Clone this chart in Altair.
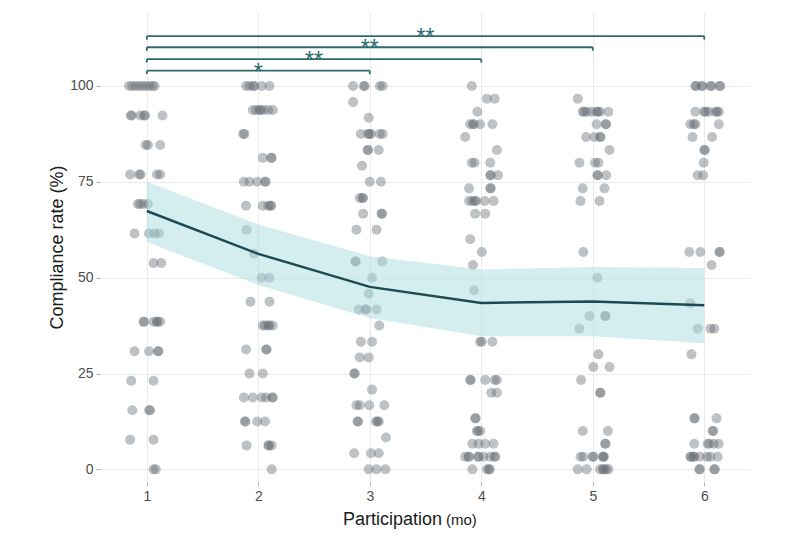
import altair as alt
import pandas as pd

# ---- data ----
months = [1, 2, 3, 4, 5, 6]
fit_mean = [67.4, 56.2, 47.6, 43.4, 43.8, 42.8]
fit_lo = [59.3, 48.1, 39.5, 34.7, 34.7, 32.9]
fit_hi = [75.0, 63.9, 55.6, 52.1, 52.8, 52.5]

bracket_from = [1, 1, 1, 1]
bracket_to = [3, 4, 5, 6]
bracket_y = [104.0, 107.0, 110.1, 113.0]
bracket_label = ["*", "**", "**", "**"]

# jittered observations: (compliance value, [jittered x positions])
m1 = [
    (100.0, [0.84, 0.87, 0.90, 0.93, 0.96, 0.99, 1.02, 1.05, 1.07]),
    (92.3, [0.855, 0.865, 0.94, 0.975, 0.985, 1.14]),
    (84.6, [0.99, 1.01, 1.12]),
    (76.9, [0.85, 0.93, 0.945, 1.09, 1.12]),
    (69.2, [0.92, 0.94, 0.97, 1.01]),
    (61.5, [0.89, 1.02, 1.07, 1.11]),
    (53.8, [1.06, 1.13]),
    (38.5, [0.97, 0.975, 1.06, 1.09, 1.095, 1.12]),
    (30.8, [0.89, 1.02, 1.10, 1.105]),
    (23.1, [0.86, 1.06]),
    (15.4, [0.87, 1.02, 1.03]),
    (7.7, [0.85, 1.06]),
    (0.0, [1.06, 1.08]),
]
m2 = [
    (100.0, [1.89, 1.92, 1.955, 1.965, 2.03, 2.10]),
    (93.75, [1.95, 1.98, 2.01, 2.02, 2.05, 2.09, 2.13]),
    (87.5, [1.865, 1.875]),
    (81.25, [2.04, 2.115, 2.12]),
    (75.0, [1.87, 1.92, 1.99, 2.06, 2.065]),
    (68.75, [1.89, 2.04, 2.09, 2.11, 2.115]),
    (62.5, [1.895]),
    (56.25, [1.96]),
    (50.0, [2.03, 2.10]),
    (43.75, [1.93, 2.10]),
    (37.5, [2.04, 2.06, 2.09, 2.10, 2.13]),
    (31.25, [1.89, 2.07, 2.075]),
    (25.0, [1.92, 2.04]),
    (18.75, [1.87, 1.95, 2.03, 2.07, 2.125, 2.13]),
    (12.5, [1.88, 1.885, 1.99, 2.06]),
    (6.25, [1.895, 2.09, 2.095, 2.12]),
    (0.0, [2.12]),
]
m3 = [
    (100.0, [2.85, 2.945, 2.955, 3.09, 3.115]),
    (95.8, [2.85]),
    (91.7, [2.99]),
    (87.5, [2.92, 2.985, 2.995, 3.01, 3.09, 3.115]),
    (83.3, [2.98, 2.985, 3.08]),
    (79.2, [2.93]),
    (75.0, [3.0, 3.1]),
    (70.8, [2.91, 2.935, 2.94]),
    (66.7, [2.94, 3.105, 3.11]),
    (62.5, [2.88, 3.06]),
    (54.2, [2.87, 2.875, 3.11]),
    (50.0, [3.02]),
    (45.8, [2.99]),
    (41.7, [2.90, 2.96, 2.97, 3.06]),
    (37.5, [3.085]),
    (33.3, [2.92, 3.02]),
    (29.2, [2.91, 2.99]),
    (25.0, [2.86, 2.865]),
    (20.8, [3.02]),
    (16.7, [2.88, 2.91, 2.995, 3.13]),
    (12.5, [2.89, 2.895, 3.055, 3.07, 3.08]),
    (8.3, [3.145]),
    (4.2, [2.86, 3.01, 3.08]),
    (0.0, [2.99, 3.06, 3.14]),
]
m4 = [
    (100.0, [3.915]),
    (96.7, [4.05, 4.12]),
    (93.3, [3.965]),
    (90.0, [3.90, 3.925, 3.935, 3.99, 4.10]),
    (86.7, [3.855]),
    (83.3, [4.14]),
    (80.0, [3.915, 3.94, 4.08]),
    (76.7, [4.08, 4.085, 4.15]),
    (73.3, [3.89, 4.08, 4.085]),
    (70.0, [3.89, 3.92, 3.945, 3.95, 4.03, 4.11]),
    (66.7, [3.945, 4.035]),
    (60.0, [3.90]),
    (56.7, [4.005]),
    (53.3, [3.925]),
    (46.7, [3.935]),
    (33.3, [3.99, 4.005, 4.10]),
    (23.3, [3.90, 3.905, 4.035, 4.12, 4.14]),
    (20.0, [4.09, 4.14]),
    (13.3, [3.945, 3.95]),
    (10.0, [3.96, 3.97, 3.99]),
    (6.7, [3.92, 3.975, 4.035, 4.11]),
    (3.3, [3.855, 3.885, 3.89, 3.97, 3.975, 4.02, 4.08, 4.12, 4.125]),
    (0.0, [3.92, 4.05, 4.07, 4.075]),
]
m5 = [
    (96.7, [4.865]),
    (93.3, [4.91, 4.92, 4.945, 4.99, 5.035, 5.045, 5.065, 5.14]),
    (90.0, [5.035, 5.115, 5.12]),
    (86.7, [4.94, 5.015, 5.065, 5.07]),
    (83.3, [5.15]),
    (80.0, [4.88, 5.02, 5.05]),
    (76.7, [5.04, 5.045, 5.12]),
    (73.3, [4.91, 5.105]),
    (70.0, [4.89, 5.06]),
    (56.7, [4.915]),
    (50.0, [5.04]),
    (40.0, [4.97, 5.11, 5.115]),
    (36.7, [4.88]),
    (30.0, [5.05]),
    (26.7, [5.005, 5.15]),
    (23.3, [4.895]),
    (20.0, [5.065, 5.07]),
    (10.0, [4.91, 5.135]),
    (6.7, [5.11, 5.115]),
    (3.3, [4.89, 4.915, 5.0, 5.005, 5.09, 5.095, 5.1]),
    (0.0, [4.865, 4.945, 5.065, 5.09, 5.1, 5.12, 5.14]),
]
m6 = [
    (100.0, [5.92, 5.925, 5.975, 5.985, 6.055, 6.065, 6.135, 6.145]),
    (93.3, [5.92, 6.0, 6.01, 6.04, 6.10, 6.115, 6.13]),
    (90.0, [5.875, 5.905, 5.92, 6.13]),
    (86.7, [5.895, 6.07]),
    (83.3, [6.0, 6.005]),
    (80.0, [5.995]),
    (76.7, [5.94, 5.99]),
    (56.7, [5.865, 5.965, 6.135, 6.14]),
    (53.3, [6.065]),
    (43.3, [5.875]),
    (36.7, [5.94, 6.055, 6.09]),
    (30.0, [5.885]),
    (13.3, [5.91, 5.915, 6.11]),
    (10.0, [6.075, 6.08]),
    (6.7, [5.91, 6.03, 6.045, 6.085, 6.13]),
    (3.3, [5.875, 5.88, 5.905, 5.91, 5.96, 6.025, 6.055, 6.12]),
    (0.0, [5.955, 5.96, 6.09, 6.095]),
]

# ---- tables ----
rows = []
for grp in [m1, m2, m3, m4, m5, m6]:
    for val, xs in grp:
        for xv in xs:
            rows.append({"x": xv, "y": val})
pts = pd.DataFrame(rows)
fit = pd.DataFrame({"x": months, "y": fit_mean, "lo": fit_lo, "hi": fit_hi})
br = pd.DataFrame({"x1": bracket_from, "x2": bracket_to, "y": bracket_y,
                   "tip": [v - 0.9 for v in bracket_y], "label": bracket_label,
                   "mid": [(a + b) / 2 for a, b in zip(bracket_from, bracket_to)]})
ttl = pd.DataFrame({"main": ["Participation"], "unit": ["(mo)"]})

FONT = "Liberation Sans"
TEAL = "#2c6b6d"

xs = alt.Scale(domain=[0.58, 6.41], nice=False, zero=False)
ys = alt.Scale(domain=[-3.3, 119.3], nice=False, zero=False)

xax = alt.Axis(values=months, format="d", title=None, grid=True, gridColor="#ebebeb",
               domain=False, ticks=True, tickColor="#b3b3b3", tickSize=4,
               labelFontSize=14, labelColor="#4d4d4d", labelFont=FONT, labelPadding=3)
yax = alt.Axis(values=[0, 25, 50, 75, 100], format="d", title="Compliance rate (%)", grid=True,
               gridColor="#ebebeb", domain=False, ticks=True, tickColor="#b3b3b3",
               tickSize=4, labelFontSize=14, labelColor="#4d4d4d", labelFont=FONT,
               labelPadding=3, titleFontSize=18, titleFont=FONT, titleColor="#1a1a1a",
               titleFontWeight="normal", titleX=-43, titleBaseline="middle")

points = alt.Chart(pts).mark_circle(size=100, color="#5f666d", opacity=0.4).encode(
    x=alt.X("x:Q", scale=xs, axis=xax),
    y=alt.Y("y:Q", scale=ys, axis=yax),
)
band = alt.Chart(fit).mark_area(color="#aadbe0", opacity=0.5).encode(
    x=alt.X("x:Q", scale=xs), y=alt.Y("lo:Q", scale=ys), y2="hi:Q")
line = alt.Chart(fit).mark_line(color="#1d4a52", strokeWidth=2.5).encode(
    x=alt.X("x:Q", scale=xs), y=alt.Y("y:Q", scale=ys))

hbar = alt.Chart(br).mark_rule(color=TEAL, strokeWidth=1.8).encode(
    x=alt.X("x1:Q", scale=xs), x2="x2:Q", y=alt.Y("y:Q", scale=ys))
tipl = alt.Chart(br).mark_rule(color=TEAL, strokeWidth=1.8).encode(
    x=alt.X("x1:Q", scale=xs), y=alt.Y("y:Q", scale=ys), y2="tip:Q")
tipr = alt.Chart(br).mark_rule(color=TEAL, strokeWidth=1.8).encode(
    x=alt.X("x2:Q", scale=xs), y=alt.Y("y:Q", scale=ys), y2="tip:Q")
stars = alt.Chart(br).mark_text(color=TEAL, fontSize=23, font=FONT, baseline="alphabetic",
                                dy=9).encode(
    x=alt.X("mid:Q", scale=xs), y=alt.Y("y:Q", scale=ys), text="label:N")

t_main = alt.Chart(ttl).mark_text(fontSize=18, font=FONT, color="#1a1a1a", align="right",
                                  baseline="alphabetic").encode(
    x=alt.value(342), y=alt.value(513), text="main:N")
t_unit = alt.Chart(ttl).mark_text(fontSize=15, font=FONT, color="#1a1a1a", align="left",
                                  baseline="alphabetic").encode(
    x=alt.value(346), y=alt.value(513), text="unit:N")

chart = alt.layer(points, band, line, hbar, tipl, tipr, stars, t_main, t_unit).properties(
    width=650, height=470,
    autosize=alt.AutoSizeParams(type="none"),
    padding={"left": 100, "top": 12, "right": 50, "bottom": 55},
    background="white",
).configure_view(stroke=None)

chart.save("out.html", embed_options={"renderer": "svg", "actions": False})
